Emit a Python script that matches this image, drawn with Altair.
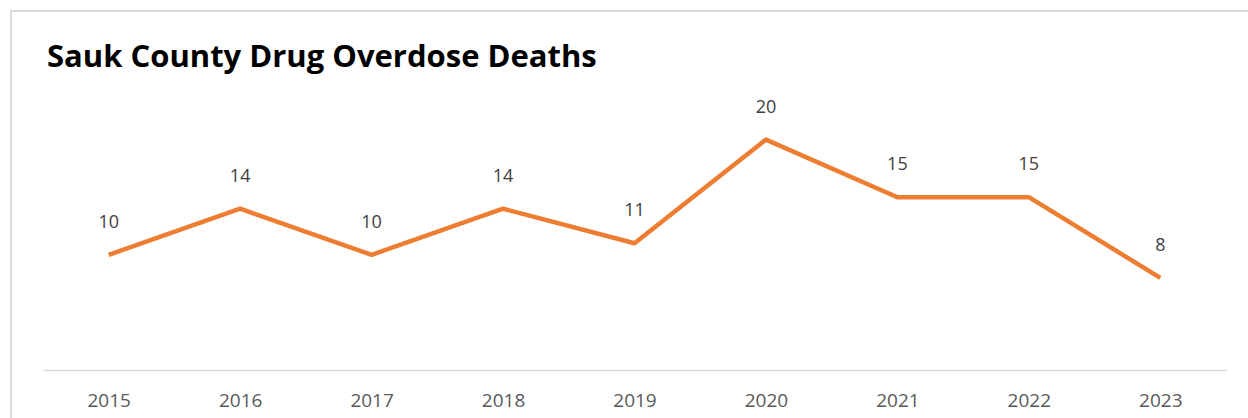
import altair as alt
import pandas as pd

years = ["2015", "2016", "2017", "2018", "2019", "2020", "2021", "2022", "2023"]
deaths = [10, 14, 10, 14, 11, 20, 15, 15, 8]

df = pd.DataFrame({"year": years, "deaths": deaths})

FONT = "Open Sans"

base = alt.Chart(df).encode(
    x=alt.X("year:O", sort=years, scale=alt.Scale(type="point", padding=0.5),
            axis=alt.Axis(title=None, labelAngle=0, ticks=False, grid=False,
                          domainColor="#D9D9D9", domainWidth=1.5,
                          labelColor="#595959", labelFont=FONT, labelFontSize=19,
                          labelPadding=21)),
    y=alt.Y("deaths:Q", scale=alt.Scale(domain=[0, 25], nice=False, zero=True), axis=None),
)

line = base.mark_line(color="#ED7D31", strokeWidth=4.5, strokeJoin="round", strokeCap="butt")

labels = base.mark_text(dy=-32, baseline="middle", align="center",
                        font=FONT, fontSize=18, color="#404040").encode(text="deaths:Q")

border_left = alt.Chart(df).mark_rule(color="#D9D9D9", strokeWidth=2).encode(
    x=alt.value(-32), y=alt.value(-71), y2=alt.value(400))
border_top = alt.Chart(df).mark_rule(color="#D9D9D9", strokeWidth=2).encode(
    x=alt.value(-33), x2=alt.value(1300), y=alt.value(-71))

chart = alt.layer(border_left, border_top, line, labels).properties(
    width=1183,
    height=288,
    background="white",
    title=alt.TitleParams(
        "Sauk County Drug Overdose Deaths",
        anchor="start", dx=38, dy=102, offset=14, baseline="alphabetic",
        font=FONT, fontSize=31, fontWeight="bold", color="#000000",
    ),
    autosize=alt.AutoSizeParams(type="none"),
    padding={"left": 43, "top": 82, "right": 22, "bottom": 48},
).configure_view(strokeWidth=0, stroke="transparent")

chart.save("out.html", embed_options={"renderer": "svg", "actions": False})
